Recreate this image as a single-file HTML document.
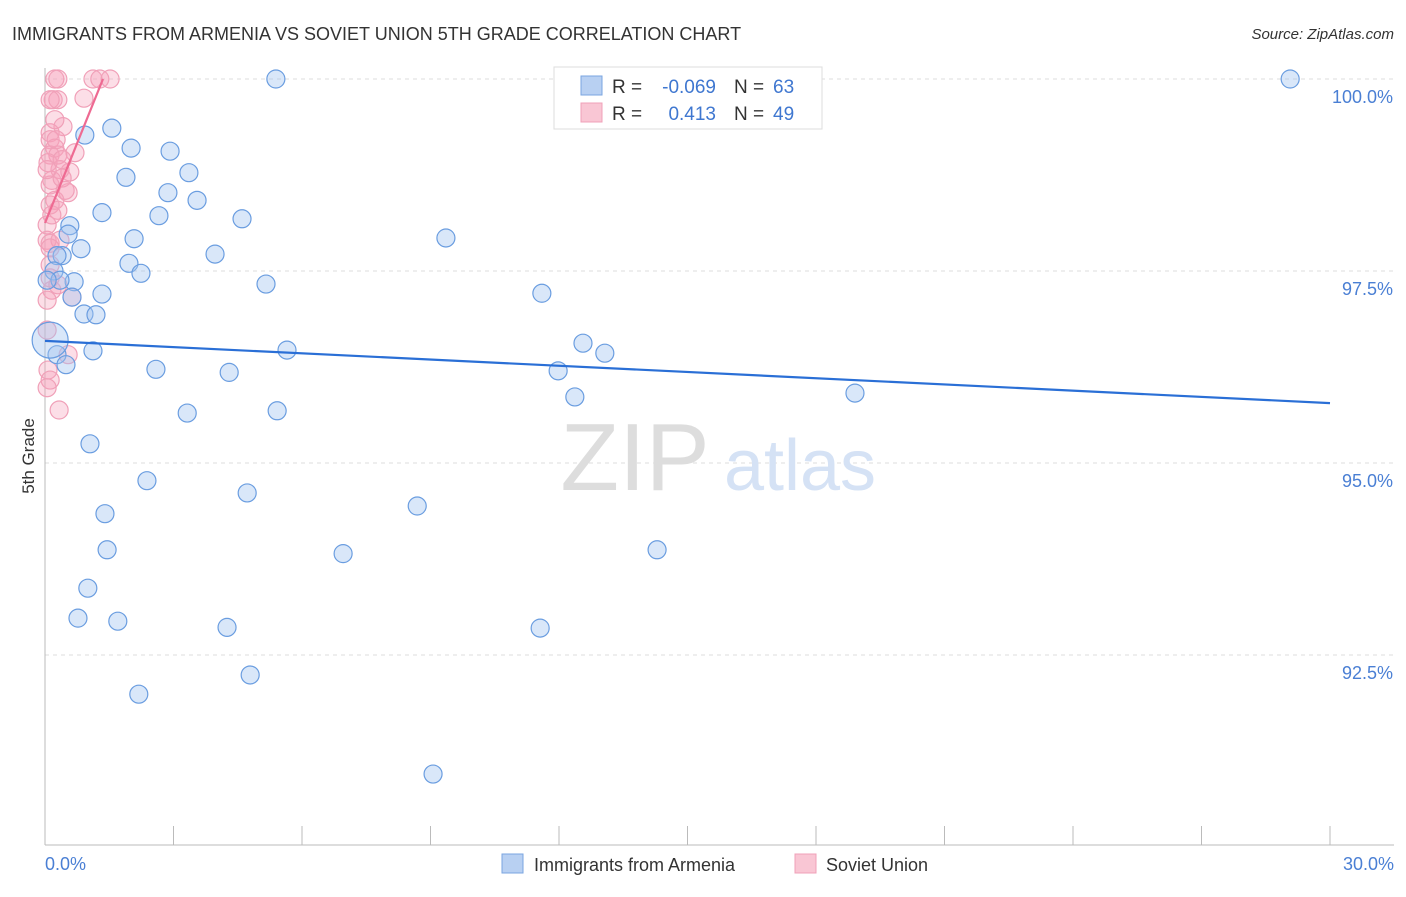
<!DOCTYPE html>
<html><head><meta charset="utf-8"><style>
body{margin:0;background:#fff;font-family:"Liberation Sans",sans-serif}
svg text{font-family:"Liberation Sans",sans-serif}
</style></head><body>
<svg id="chart" width="1406" height="892" viewBox="0 0 1406 892" xmlns="http://www.w3.org/2000/svg">
<text x="12" y="40" font-size="18" fill="#333">IMMIGRANTS FROM ARMENIA VS SOVIET UNION 5TH GRADE CORRELATION CHART</text>
<text x="1394" y="39" font-size="15" fill="#333" font-style="italic" text-anchor="end">Source: ZipAtlas.com</text>
<g id="grid"></g>
<g>
<text x="635" y="490" font-size="96" fill="#ddd" font-family="Liberation Serif,serif" text-anchor="middle">ZIP</text>
<text x="800" y="490" font-size="72" fill="#d5e2f5" text-anchor="middle">atlas</text>
</g>
<line x1="45" y1="68" x2="45" y2="845" stroke="#bbb"/>
<line x1="45" y1="845" x2="1394" y2="845" stroke="#bbb"/>
<g id="xticks"></g>
<g id="pts"></g>
<g id="trends"></g>
<text transform="translate(34,456) rotate(-90)" font-size="17" fill="#333" text-anchor="middle">5th Grade</text>
<text x="45" y="870" font-size="18" fill="#4a7fd4">0.0%</text>
<text x="1394" y="870" font-size="18" fill="#4a7fd4" text-anchor="end">30.0%</text>
<g>
<rect x="554" y="67" width="268" height="62" fill="#fff" stroke="#ddd"/>
<rect x="581" y="76" width="21" height="19" fill="#b8d0f2" stroke="#7aa5e0"/>
<rect x="581" y="103" width="21" height="19" fill="#f9c6d4" stroke="#f0a0b8"/>
<text x="612" y="93" font-size="19" fill="#333">R =</text>
<text x="716" y="93" font-size="19" fill="#3f77d0" text-anchor="end">-0.069</text>
<text x="734" y="93" font-size="19" fill="#333">N =</text>
<text x="773" y="93" font-size="19" fill="#3f77d0">63</text>
<text x="612" y="120" font-size="19" fill="#333">R =</text>
<text x="716" y="120" font-size="19" fill="#3f77d0" text-anchor="end">0.413</text>
<text x="734" y="120" font-size="19" fill="#333">N =</text>
<text x="773" y="120" font-size="19" fill="#3f77d0">49</text>
</g>
<g>
<rect x="502" y="854" width="21" height="19" fill="#b8d0f2" stroke="#7aa5e0"/>
<text x="534" y="871" font-size="18" fill="#333">Immigrants from Armenia</text>
<rect x="795" y="854" width="21" height="19" fill="#f9c6d4" stroke="#f0a0b8"/>
<text x="826" y="871" font-size="18" fill="#333">Soviet Union</text>
</g>
</svg>
<script>
const yTicks=[100,97.5,95,92.5];
const yTickLabels=["100.0%","97.5%","95.0%","92.5%"];
const xTicks=[0,3,6,9,12,15,18,21,24,27,30];
const blueX=[5.39,29.07,0.93,1.56,2.01,2.92,1.89,3.36,2.87,3.55,1.33,4.60,2.66,0.58,0.54,2.08,0.84,9.36,3.97,0.40,0.28,1.96,2.24,0.21,0.68,5.16,1.33,11.60,0.63,0.91,1.19,12.56,5.65,13.07,1.12,0.28,0.49,2.59,4.30,11.98,12.37,18.91,3.32,5.42,1.05,2.38,4.72,8.69,1.40,1.45,6.96,14.29,1.00,0.77,1.70,4.25,11.56,4.79,2.19,9.06,0.12,0.35,0.05];
const blueY=[100,100,99.27,99.36,99.10,99.06,98.72,98.78,98.52,98.42,98.26,98.18,98.22,98.09,97.98,97.92,97.79,97.93,97.72,97.70,97.70,97.60,97.47,97.50,97.36,97.33,97.20,97.21,97.16,96.94,96.93,96.56,96.47,96.43,96.46,96.41,96.28,96.22,96.18,96.20,95.86,95.91,95.65,95.68,95.25,94.77,94.61,94.44,94.34,93.87,93.82,93.87,93.37,92.98,92.94,92.86,92.85,92.24,91.99,90.95,96.60,97.38,97.38];
const pinkX=[0.23,0.30,1.12,1.28,1.52,0.19,0.30,0.91,0.42,0.12,0.12,0.23,0.70,0.12,0.30,0.35,0.58,0.16,0.12,0.54,0.23,0.12,0.30,0.05,0.12,0.35,0.12,0.12,0.16,0.63,0.05,0.54,0.07,0.12,0.05,0.33,0.12,0.40,0.07,0.23,0.47,0.05,0.16,0.30,0.05,0.40,0.12,0.05,0.26];
const pinkY=[100,100,100,100,100,99.73,99.73,99.75,99.38,99.30,99.21,99.10,99.04,99.01,99.01,98.82,98.79,98.68,98.62,98.52,98.42,98.36,98.29,97.90,97.86,97.90,97.80,97.41,97.25,97.16,96.73,96.41,96.21,96.08,95.98,95.69,97.58,98.71,98.91,99.47,98.55,98.10,98.23,97.32,97.12,98.95,99.73,98.82,99.21];
const blueTrendX=[0,30], blueTrendY=[96.59,95.78];
const pinkTrendX=[0,1.354], pinkTrendY=[98.125,100];
const NS="http://www.w3.org/2000/svg";
const xS=v=>45+v*(1285/30);
const yS=v=>79+(100-v)*76.8;
function mk(t,a,p){const e=document.createElementNS(NS,t);for(const k in a)e.setAttribute(k,a[k]);p.appendChild(e);return e;}
const grid=document.getElementById('grid');
yTicks.forEach((t,i)=>{
 const l=mk('line',{x1:45,x2:1394,y1:yS(t),y2:yS(t),stroke:'#ddd','stroke-dasharray':'4,4'},grid);
 
 
 const tx=mk('text',{x:1393,y:yS(t)+24,'font-size':18,fill:'#4a7fd4','text-anchor':'end'},grid);
 tx.textContent=yTickLabels[i];
 
 
});
const xt=document.getElementById('xticks');
xTicks.forEach(t=>{
 const l=mk('line',{x1:xS(t),x2:xS(t),y1:826,y2:845,stroke:'#bbb'},xt);
 
 
});
const pts=document.getElementById('pts');
pinkX.forEach((x,i)=>{
 const c=mk('circle',{cx:xS(x),cy:yS(pinkY[i]),r:9,fill:'rgba(245,160,185,0.35)',stroke:'#f0a0b8','stroke-width':1.2},pts);
 
 
});
blueX.forEach((x,i)=>{
 const big=i===60;
 const c=mk('circle',{cx:xS(x),cy:yS(blueY[i]),r:big?18:9,fill:'rgba(160,195,240,0.4)',stroke:'#6a9de0','stroke-width':1.2},pts);
 
 
});
const tr=document.getElementById('trends');
const bl=mk('line',{x1:xS(blueTrendX[0]),y1:yS(blueTrendY[0]),x2:xS(blueTrendX[1]),y2:yS(blueTrendY[1]),stroke:'#2a6fd6','stroke-width':2.2},tr);


const pl=mk('line',{x1:xS(pinkTrendX[0]),y1:yS(pinkTrendY[0]),x2:xS(pinkTrendX[1]),y2:yS(pinkTrendY[1]),stroke:'#ee6a92','stroke-width':2.2},tr);


</script>
</body></html>
